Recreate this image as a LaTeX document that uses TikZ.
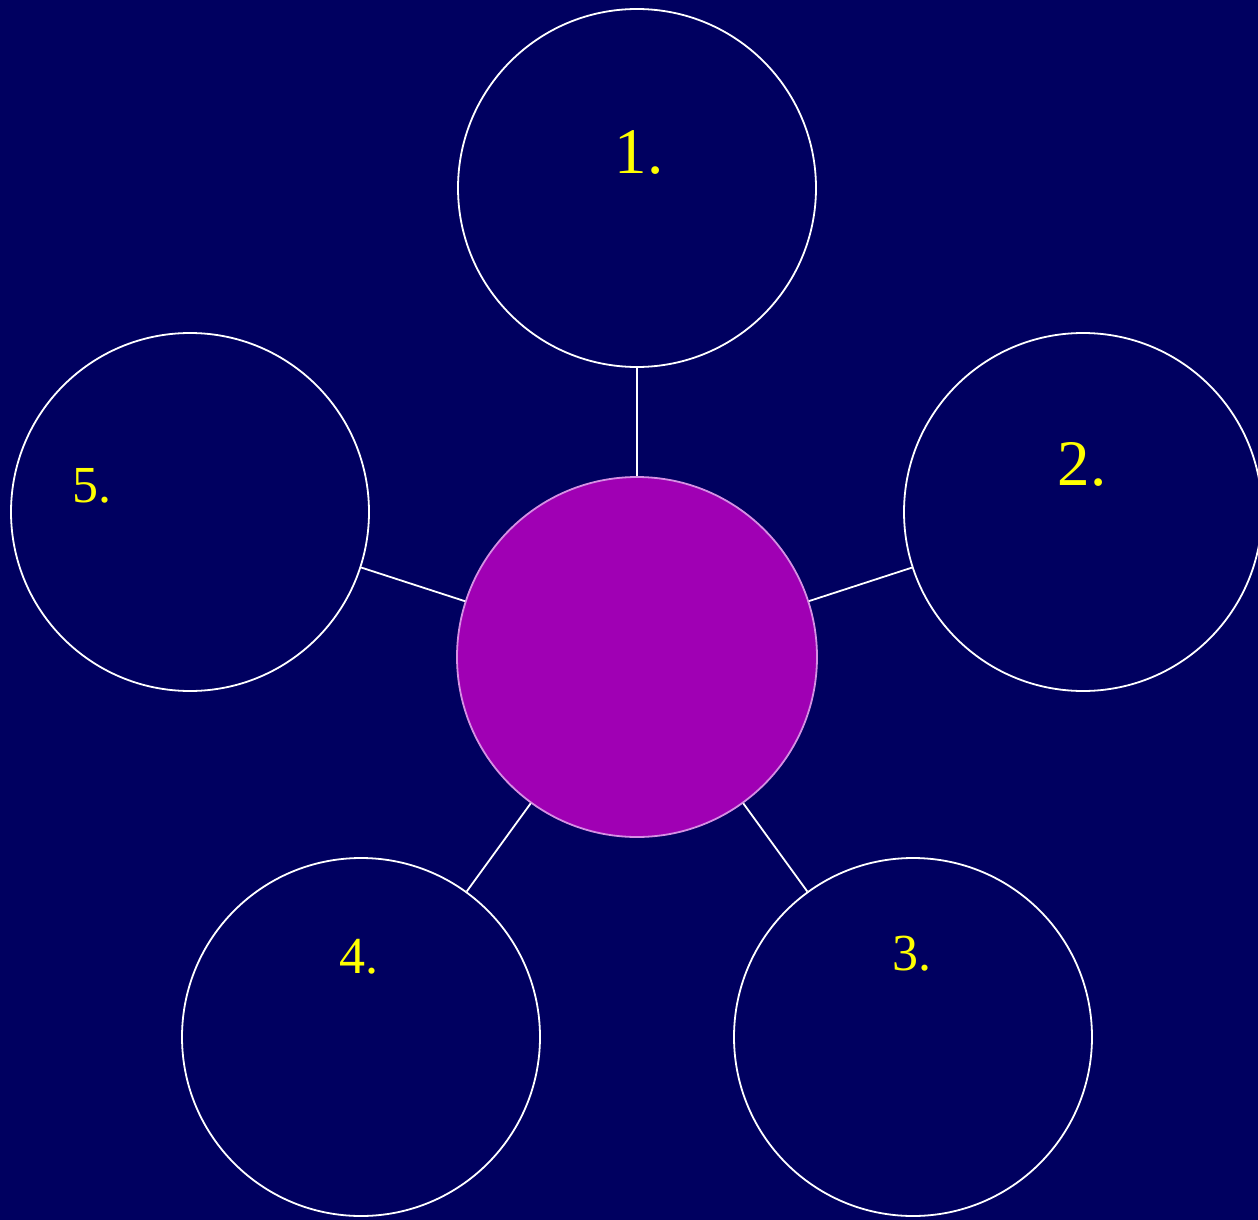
\documentclass[tikz,border=0pt]{standalone}
\usepackage{fontspec}
\setmainfont{Liberation Serif}
\definecolor{bgnavy}{HTML}{000060}
\definecolor{hubfill}{HTML}{A000B4}
\definecolor{hubline}{HTML}{D58FE3}
\definecolor{labely}{HTML}{FFFF00}
\begin{document}
\begin{tikzpicture}[x=1pt,y=-1pt,
  outer/.style={circle,draw=white,line width=1.8pt,minimum size=358pt,inner sep=0pt},
  hub/.style={circle,draw=hubline,fill=hubfill,line width=1.8pt,minimum size=360pt,inner sep=0pt},
  spoke/.style={draw=white,line width=1.8pt},
  biglab/.style={anchor=base,text=labely,font=\fontsize{65}{78}\selectfont,inner sep=0pt},
  smalllab/.style={anchor=base,text=labely,font=\fontsize{52}{62}\selectfont,inner sep=0pt}]
\fill[bgnavy] (0,0) rectangle (1258,1220);
\useasboundingbox (0,0) rectangle (1258,1220);
\node[hub] (c) at (637,657) {};
\node[outer] (n1) at (637,188) {};
\node[outer] (n2) at (1083,512) {};
\node[outer] (n3) at (913,1037) {};
\node[outer] (n4) at (361,1037) {};
\node[outer] (n5) at (190,512) {};
\draw[spoke] (c) -- (n1);
\draw[spoke] (c) -- (n2);
\draw[spoke] (c) -- (n3);
\draw[spoke] (c) -- (n4);
\draw[spoke] (c) -- (n5);
\node[biglab] (l1) at (639,173) {1.};
\node[biglab] (l2) at (1082,485) {2.};
\node[smalllab] (l3) at (912,970) {3.};
\node[smalllab] (l4) at (359,973) {4.};
\node[smalllab] (l5) at (92,502) {5.};
\end{tikzpicture}
\end{document}
